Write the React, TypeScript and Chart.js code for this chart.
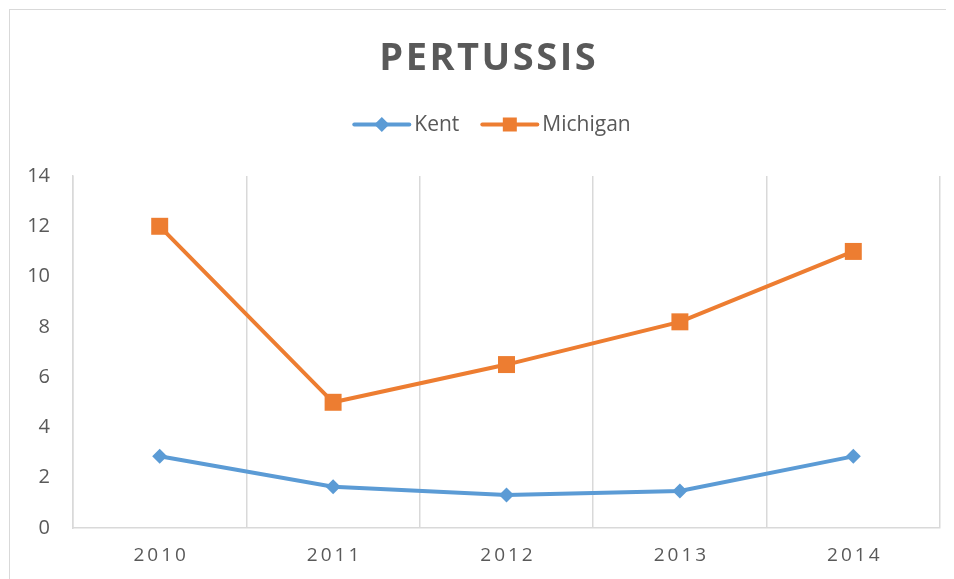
import React, { useEffect, useRef } from 'react';
import { Chart, registerables } from 'chart.js';

Chart.register(...registerables);

const TITLE = 'PERTUSSIS';
const years = ['2010', '2011', '2012', '2013', '2014'];
const kent = [2.85, 1.64, 1.31, 1.47, 2.85];
const michigan = [12, 5, 6.5, 8.2, 11];
const seriesNames = ['Kent', 'Michigan'];
const seriesColors = ['#5B9BD5', '#ED7D31'];
const seriesMarkers = ['rectRot', 'rect'];
const yMin = 0;
const yMax = 14;
const yStep = 2;

const TEXT = '#595959';
const GRID = '#d9d9d9';
const FONT = '"Open Sans", "DejaVu Sans", sans-serif';

const W = 944;
const H = 569;

const overlay = {
  id: 'overlay',
  afterDraw(chart: any) {
    const ctx: CanvasRenderingContext2D = chart.ctx;
    ctx.save();
    // Title
    ctx.fillStyle = TEXT;
    ctx.font = `bold 38px ${FONT}`;
    (ctx as any).letterSpacing = '2.5px';
    ctx.textAlign = 'left';
    ctx.textBaseline = 'alphabetic';
    const tw = ctx.measureText(TITLE).width - 2.5;
    ctx.fillText(TITLE, 477.5 - tw / 2, 60);

    // X labels (letter-spaced)
    const xs = chart.scales.x;
    ctx.font = `19px ${FONT}`;
    (ctx as any).letterSpacing = '3px';
    ctx.textBaseline = 'middle';
    years.forEach((lab, i) => {
      const w = ctx.measureText(lab).width - 3;
      ctx.fillText(lab, xs.getPixelForValue(i) - w / 2, 546);
    });

    // Legend
    (ctx as any).letterSpacing = '0px';
    ctx.font = `21px ${FONT}`;
    const lineLen = 55;
    const gapText = 5;
    const gapItem = 23;
    const widths = seriesNames.map((n) => ctx.measureText(n).width);
    const total =
      widths.reduce((a, w) => a + lineLen + gapText + w, 0) + gapItem * (seriesNames.length - 1);
    let x = 482.5 - total / 2;
    const ly = 114.5;
    seriesNames.forEach((name, i) => {
      ctx.strokeStyle = seriesColors[i];
      ctx.fillStyle = seriesColors[i];
      ctx.lineWidth = 4;
      ctx.lineCap = 'round';
      ctx.beginPath();
      ctx.moveTo(x, ly);
      ctx.lineTo(x + lineLen, ly);
      ctx.stroke();
      const cx = x + lineLen / 2;
      ctx.beginPath();
      if (seriesMarkers[i] === 'rectRot') {
        const r = 7.5;
        ctx.moveTo(cx, ly - r);
        ctx.lineTo(cx + r, ly);
        ctx.lineTo(cx, ly + r);
        ctx.lineTo(cx - r, ly);
        ctx.closePath();
      } else {
        const h = 7;
        ctx.rect(cx - h, ly - h, 2 * h, 2 * h);
      }
      ctx.fill();
      ctx.fillStyle = TEXT;
      ctx.textBaseline = 'middle';
      ctx.fillText(name, x + lineLen + gapText, ly + 1);
      x += lineLen + gapText + widths[i] + gapItem;
    });
    ctx.restore();
  },
};

export default function App() {
  const ref = useRef<HTMLCanvasElement | null>(null);

  useEffect(() => {
    document.documentElement.style.overflow = 'hidden';
    document.body.style.overflow = 'hidden';
    const canvas = ref.current;
    if (!canvas) return;
    const chart = new Chart(canvas, {
      type: 'line',
      data: {
        labels: years,
        datasets: [
          {
            label: seriesNames[0],
            data: kent,
            borderColor: seriesColors[0],
            backgroundColor: seriesColors[0],
            borderWidth: 4,
            pointStyle: seriesMarkers[0] as any,
            pointRadius: 7.5,
            pointBorderWidth: 0,
            pointBackgroundColor: seriesColors[0],
            tension: 0,
          },
          {
            label: seriesNames[1],
            data: michigan,
            borderColor: seriesColors[1],
            backgroundColor: seriesColors[1],
            borderWidth: 4,
            pointStyle: seriesMarkers[1] as any,
            pointRadius: 12,
            pointBorderWidth: 0,
            pointBackgroundColor: seriesColors[1],
            tension: 0,
          },
        ],
      },
      options: {
        responsive: false,
        animation: false,
        layout: { padding: { top: 166, right: W - 930, bottom: 0, left: 0 } },
        plugins: {
          legend: { display: false },
          title: { display: false },
          tooltip: { enabled: false },
        },
        scales: {
          x: {
            offset: true,
            grid: { display: true, offset: true, color: GRID, lineWidth: 1.5, drawTicks: false },
            border: { display: true, color: GRID, width: 1.5 },
            ticks: { display: false },
            afterFit: (s: any) => {
              s.height = H - 518;
            },
          },
          y: {
            min: yMin,
            max: yMax,
            grid: { display: false, drawTicks: false },
            border: { display: true, color: GRID, width: 1.5 },
            ticks: {
              stepSize: yStep,
              color: TEXT,
              padding: 23,
              font: { family: FONT, size: 20 },
            },
            afterFit: (s: any) => {
              s.width = 63;
            },
          },
        },
      },
      plugins: [overlay],
    });
    return () => chart.destroy();
  }, []);

  return (
    <div
      style={{
        margin: '1px 0 0 1px',
        borderTop: `1px solid ${GRID}`,
        borderLeft: `1px solid ${GRID}`,
        width: W,
        height: H,
        overflow: 'hidden',
      }}
    >
      <canvas ref={ref} width={W} height={H} style={{ display: 'block', width: W, height: H }} />
    </div>
  );
}
